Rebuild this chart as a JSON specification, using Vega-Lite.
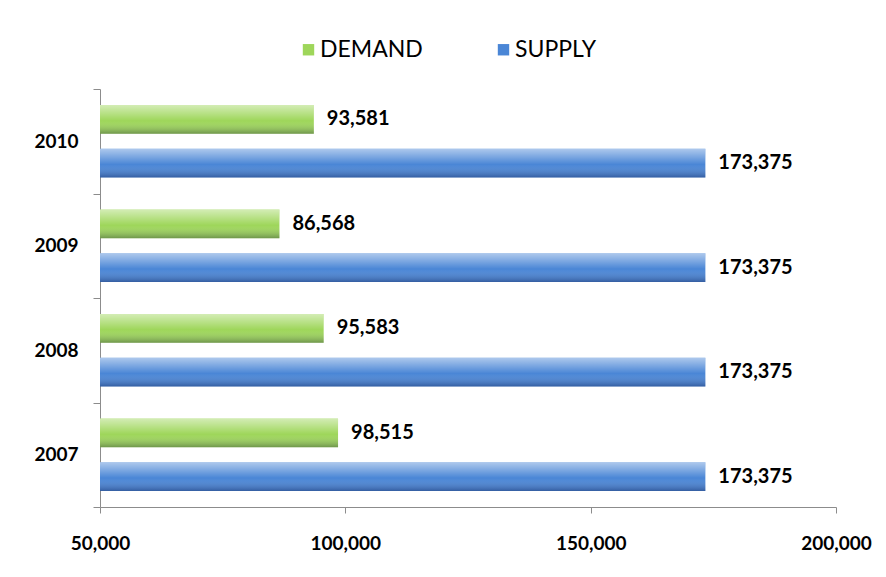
{
  "$schema": "https://vega.github.io/schema/vega-lite/v6.json",
  "width": 736,
  "height": 418,
  "autosize": {"type": "none"},
  "padding": {"left": 100, "top": 89, "right": 50, "bottom": 70},
  "background": "white",
  "config": {"view": {"stroke": null}, "font": "Lato"},
  "data": {
    "values": [
      {"year": "2010", "series": "DEMAND", "value": 93581},
      {"year": "2010", "series": "SUPPLY", "value": 173375},
      {"year": "2009", "series": "DEMAND", "value": 86568},
      {"year": "2009", "series": "SUPPLY", "value": 173375},
      {"year": "2008", "series": "DEMAND", "value": 95583},
      {"year": "2008", "series": "SUPPLY", "value": 173375},
      {"year": "2007", "series": "DEMAND", "value": 98515},
      {"year": "2007", "series": "SUPPLY", "value": 173375}
    ]
  },
  "encoding": {
    "y": {
      "field": "year",
      "type": "nominal",
      "sort": ["2010", "2009", "2008", "2007"],
      "scale": {"paddingInner": 0, "paddingOuter": 0},
      "axis": {
        "title": null,
        "labelFontSize": 19,
        "labelFontWeight": "bold",
        "labelColor": "black",
        "domainColor": "#8c8c8c",
        "tickColor": "#8c8c8c",
        "tickSize": 7,
        "tickBand": "extent",
        "labelPadding": 15
      }
    },
    "yOffset": {
      "field": "series",
      "sort": ["DEMAND", "SUPPLY"],
      "scale": {"paddingInner": 0.345, "paddingOuter": 0.368}
    },
    "x": {
      "field": "value",
      "type": "quantitative",
      "scale": {"domain": [50000, 200000], "zero": false, "nice": false},
      "axis": {
        "title": null,
        "values": [50000, 100000, 150000, 200000],
        "labelExpr": "format(datum.value, ',')",
        "grid": false,
        "labelFontSize": 19,
        "labelFontWeight": "bold",
        "labelColor": "black",
        "domainColor": "#8c8c8c",
        "tickColor": "#8c8c8c",
        "tickSize": 6,
        "labelPadding": 21,
        "labelFlush": false
      }
    }
  },
  "layer": [
    {
      "mark": {"type": "bar"},
      "encoding": {
        "x2": {"datum": 50000},
        "color": {
          "field": "series",
          "type": "nominal",
          "sort": ["DEMAND", "SUPPLY"],
          "scale": {"domain": ["DEMAND", "SUPPLY"], "range": ["#9ed65a", "#4a86d6"]},
          "legend": {
            "title": null,
            "orient": "none",
            "legendX": 197,
            "legendY": -51,
            "direction": "horizontal",
            "symbolType": "square",
            "symbolSize": 130,
            "symbolStrokeWidth": 0,
            "labelFontSize": 23,
            "labelColor": "black",
            "labelOffset": 0,
            "columnPadding": 69
          }
        }
      }
    },
    {
      "mark": {
        "type": "bar",
        "color": {
          "gradient": "linear",
          "x1": 0, "y1": 0, "x2": 0, "y2": 1,
          "stops": [
            {"offset": 0, "color": "rgba(255,255,255,0.55)"},
            {"offset": 0.25, "color": "rgba(255,255,255,0.3)"},
            {"offset": 0.55, "color": "rgba(255,255,255,0.0)"},
            {"offset": 1, "color": "rgba(0,0,40,0.3)"}
          ]
        }
      },
      "encoding": {"x2": {"datum": 50000}}
    },
    {
      "mark": {"type": "text", "align": "left", "baseline": "middle", "dx": 13, "fontSize": 20, "fontWeight": "bold", "color": "black"},
      "encoding": {"text": {"field": "value", "type": "quantitative", "format": ","}}
    }
  ]
}
